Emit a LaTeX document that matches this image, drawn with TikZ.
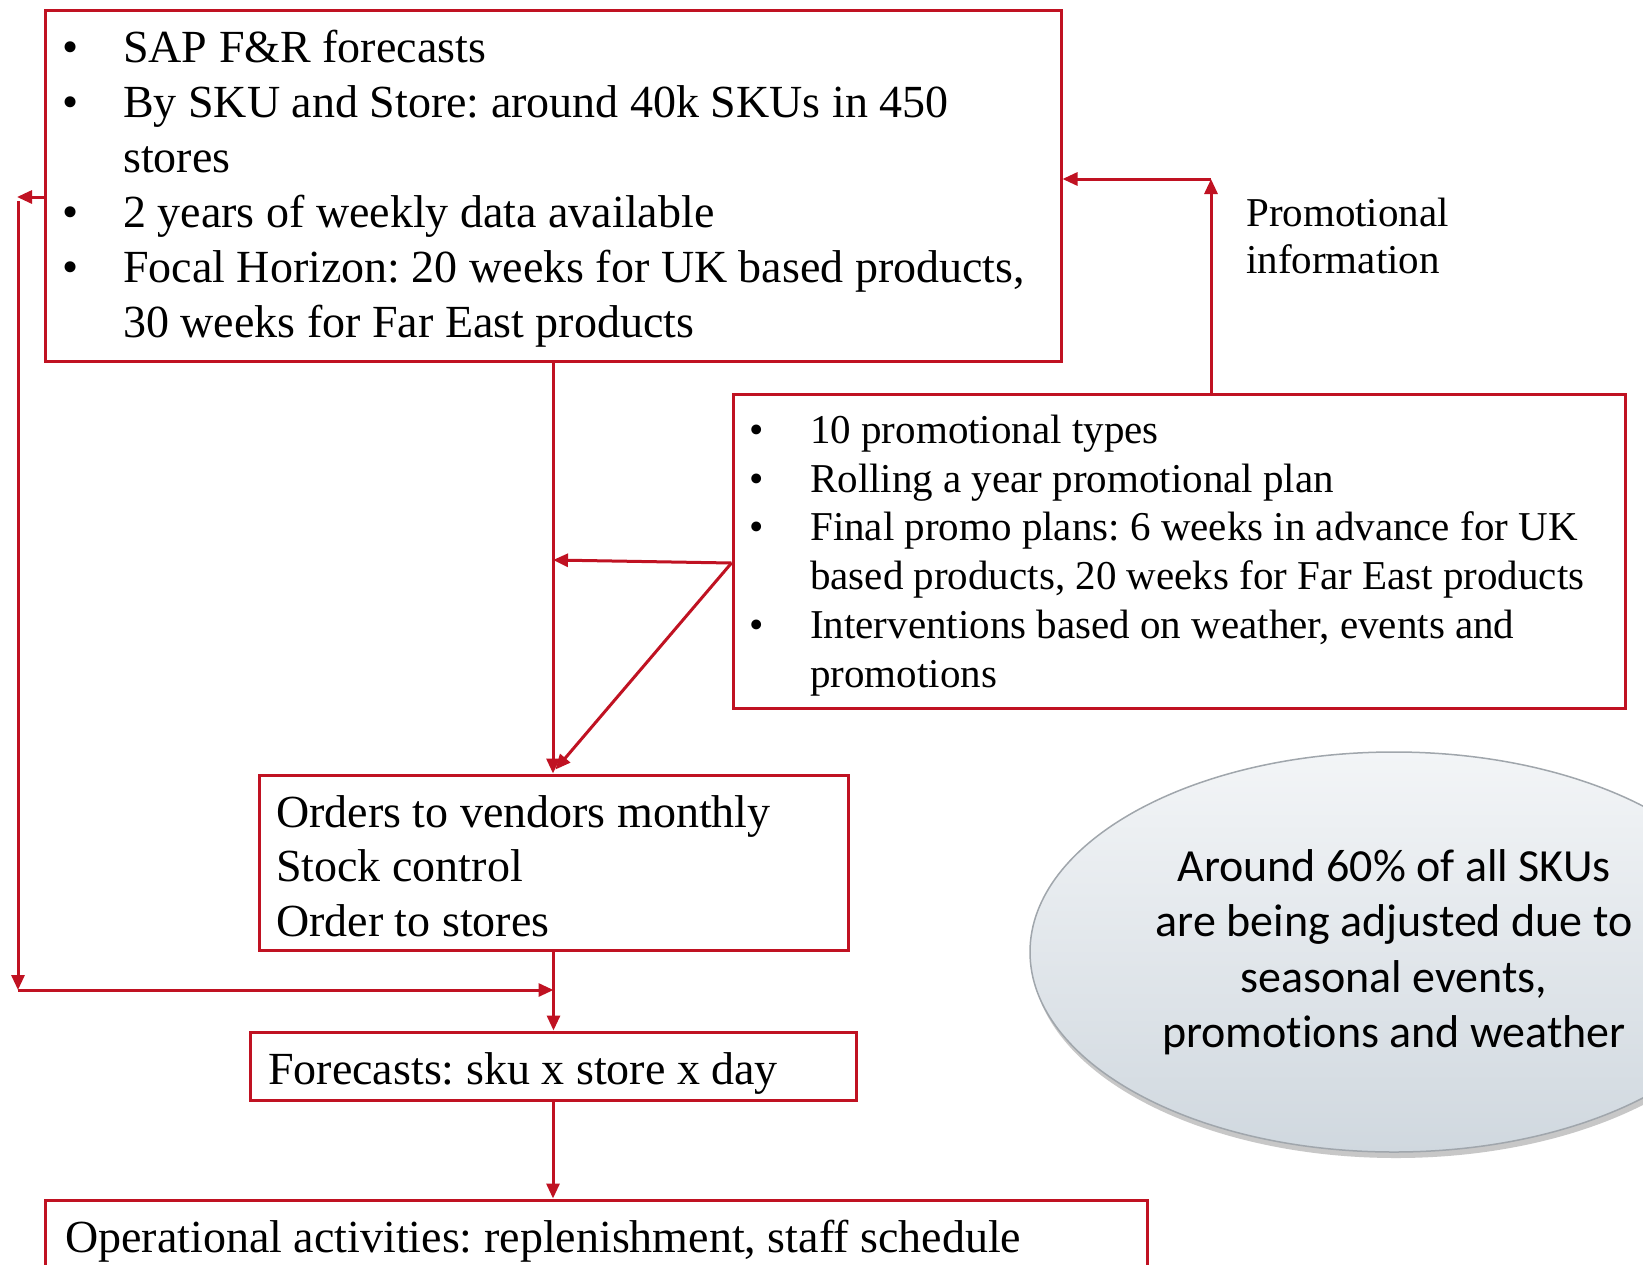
\documentclass[tikz,border=0pt]{standalone}
\usepackage{fontspec}
\setmainfont{Liberation Serif}
\newfontfamily\notefont[RawFeature=-liga]{Carlito}
\frenchspacing
\usetikzlibrary{arrows.meta,shapes.geometric,shadows}
\definecolor{boxred}{RGB}{192,18,34}
\definecolor{notetop}{RGB}{243,245,247}
\definecolor{notebot}{RGB}{208,216,223}
\definecolor{noteedge}{RGB}{160,166,172}
\tikzset{
  box/.style={draw=boxred, line width=3pt, rectangle, inner sep=0pt},
  arr/.style={draw=boxred, line width=3pt, -{Triangle[length=15pt,width=13pt]}},
  big/.style={anchor=base west, inner sep=0pt, font=\fontsize{46}{55}\selectfont},
  mid/.style={anchor=base west, inner sep=0pt, font=\fontsize{41}{48.8}\selectfont},
  bigdot/.style={anchor=base, inner sep=0pt, font=\fontsize{46}{55}\selectfont},
  middot/.style={anchor=base, inner sep=0pt, font=\fontsize{41}{48.8}\selectfont},
}
\begin{document}
\begin{tikzpicture}[x=1pt,y=-1pt]
\useasboundingbox (0,0) rectangle (1643,1264);
\clip (0,0) rectangle (1643,1264);
\fill[white] (0,0) rectangle (1643,1264);

% boxes
\node[box, minimum width=1016pt, minimum height=351pt] (top) at (553,185.5) {};
\node[box, minimum width=892pt, minimum height=314pt] (promo) at (1179,551) {};
\node[box, minimum width=589pt, minimum height=175pt] (orders) at (553.5,862.5) {};
\node[box, minimum width=606pt, minimum height=68pt] (fcst) at (553,1066) {};
\node[box, minimum width=1102pt, minimum height=120pt] (oper) at (596,1260) {};

% shaded note
\node[ellipse, draw=noteedge, line width=1.5pt, minimum width=728pt, minimum height=400pt,
      top color=notetop, bottom color=notebot, align=center, inner sep=0pt,
      drop shadow={shadow xshift=2pt, shadow yshift=-6pt, opacity=0.4, fill=black!55},
      font=\notefont\fontsize{46}{55.5}\selectfont] (note) at (1394,952)
  {Around 60\% of all SKUs\\are being adjusted due to\\seasonal events,\\promotions and weather};

% forecast box text
\node[bigdot] (b1) at (71,62) {•};
\node[big] (t1) at (123,62) {SAP F\&R forecasts};
\node[bigdot] (b2) at (71,117) {•};
\node[big] (t2) at (123,117) {By SKU and Store: around 40k SKUs in 450};
\node[big] (t3) at (123,172) {stores};
\node[bigdot] (b4) at (71,227) {•};
\node[big] (t4) at (123,227) {2 years of weekly data available};
\node[bigdot] (b5) at (71,282) {•};
\node[big] (t5) at (123,282) {Focal Horizon: 20 weeks for UK based products,};
\node[big] (t6) at (123,337) {30 weeks for Far East products};

% promotion box text
\node[middot] (p1) at (757,443) {•};
\node[mid] (q1) at (810,443) {10 promotional types};
\node[middot] (p2) at (757,492) {•};
\node[mid] (q2) at (810,492) {Rolling a year promotional plan};
\node[middot] (p3) at (757,540) {•};
\node[mid] (q3) at (810,540) {Final promo plans: 6 weeks in advance for UK};
\node[mid] (q4) at (810,589) {based products, 20 weeks for Far East products};
\node[middot] (p5) at (757,638) {•};
\node[mid] (q5) at (810,638) {Interventions based on weather, events and};
\node[mid] (q6) at (810,687) {promotions};

\node[mid] (info1) at (1246,226) {Promotional};
\node[mid] (info2) at (1246,273) {information};

% order box text
\node[big] (o1) at (276,827) {Orders to vendors monthly};
\node[big] (o2) at (276,881) {Stock control};
\node[big] (o3) at (276,936) {Order to stores};

\node[big] (f1) at (268,1084) {Forecasts: sku x store x day};
\node[big] (op1) at (65,1252) {Operational activities: replenishment, staff schedule};

% connector points
\coordinate (pj) at ([yshift=-12pt]promo.west);
\coordinate (vj) at (top.south |- 0,560);
\coordinate (pu) at (1211,179);
\coordinate (lt) at (17,197);
\coordinate (ls) at (18,201);
\coordinate (lb) at (18,990);
\coordinate (mg) at (orders.south |- lb);

% connectors
\draw[arr] (top.south) -- (top.south |- orders.north);
\draw[arr] (pj) -- (vj);
\draw[arr] (pj) -- ([xshift=2pt,yshift=4pt]orders.north);
\draw[arr] (promo.north -| pu) -- (pu);
\draw[arr] (pu) -- (pu -| top.east);
\draw[arr] (top.west |- lt) -- (lt);
\draw[arr] (ls) -- (lb);
\draw[arr] (lb) -- (mg);
\draw[arr] (orders.south) -- (orders.south |- fcst.north);
\draw[arr] (fcst.south) -- (fcst.south |- oper.north);
\end{tikzpicture}
\end{document}
